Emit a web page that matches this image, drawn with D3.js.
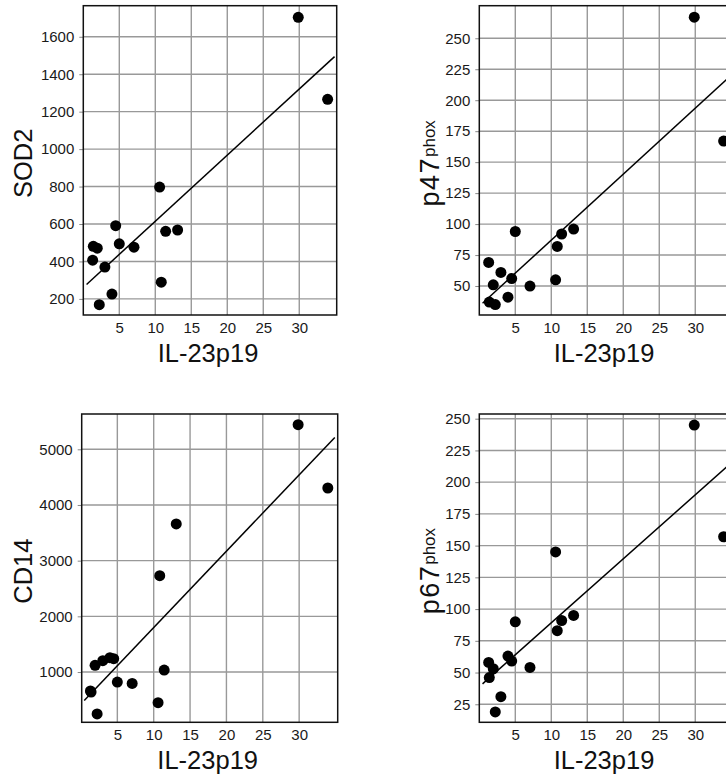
<!DOCTYPE html>
<html>
<head>
<meta charset="utf-8">
<script src="https://cdn.jsdelivr.net/npm/d3@7"></script>
<style>
body { margin: 0; background: #fff; }
text { font-family: Arial, "Liberation Sans", sans-serif; }
</style>
</head>
<body>
<script>
// IL-23p19 values shared by the four panels
var il23 = [1.3, 1.39, 1.94, 2.22, 3.0, 3.98, 4.5, 5.0, 7.04, 10.6, 10.83, 11.44, 13.1, 29.86, 33.94];

var sod2 = [407, 481, 471, 169, 370, 226, 591, 494, 476, 797, 289, 561, 568, 1704, 1266];
var p47  = [69, 37, 51, 35, 61, 41, 56, 94, 50, 55, 82, 92, 96, 267, 167];
var cd14 = [660, 640, 1120, 248, 1203, 1257, 1239, 820, 796, 449, 2730, 1036, 3659, 5442, 4305];
var p67  = [58, 46, 53, 19, 31, 63, 59, 90, 54, 145, 83, 91, 95, 245, 157];

var xTicks    = [5, 10, 15, 20, 25, 30];
var sod2Ticks = [200, 400, 600, 800, 1000, 1200, 1400, 1600];
var p47Ticks  = [50, 75, 100, 125, 150, 175, 200, 225, 250];
var cd14Ticks = [1000, 2000, 3000, 4000, 5000];
var p67Ticks  = [25, 50, 75, 100, 125, 150, 175, 200, 225, 250];

// range over which the fitted line is drawn
var fitRange = [0.45, 34.9];

var width = 726,
    height = 779;

var svg = d3.select("body").append("svg")
    .attr("width", width)
    .attr("height", height);

var panels = [
    {name: "SOD2", sup: "", y: sod2, ticks: sod2Ticks, xdom: [0, 35.2], ydom: [114, 1766],
     left: 83.3, top: 5.7, w: 253.4, h: 309.3, labX: 23},
    {name: "p47", sup: "phox", y: p47, ticks: p47Ticks, xdom: [0, 35.2], ydom: [26.6, 276.3],
     left: 479.3, top: 5.7, w: 253.4, h: 309.3, labX: 430},
    {name: "CD14", sup: "", y: cd14, ticks: cd14Ticks, xdom: [0.1, 35.3], ydom: [97, 5634],
     left: 81.7, top: 414, w: 256, h: 308.3, labX: 23},
    {name: "p67", sup: "phox", y: p67, ticks: p67Ticks, xdom: [0, 35.2], ydom: [10.8, 253.7],
     left: 479.3, top: 414, w: 253.4, h: 308.3, labX: 430}
];

panels.forEach(function(p) {
    var x = d3.scaleLinear().domain(p.xdom).range([0, p.w]);
    var y = d3.scaleLinear().domain(p.ydom).range([p.h, 0]);

    var g = svg.append("g").attr("transform", "translate(" + p.left + "," + p.top + ")");

    //grid
    g.append("g").selectAll("line").data(xTicks).enter().append("line")
        .attr("x1", function(d) { return x(d); }).attr("x2", function(d) { return x(d); })
        .attr("y1", 0).attr("y2", p.h)
        .attr("stroke", "#999").attr("stroke-width", 1.4);
    g.append("g").selectAll("line").data(p.ticks).enter().append("line")
        .attr("y1", function(d) { return y(d); }).attr("y2", function(d) { return y(d); })
        .attr("x1", 0).attr("x2", p.w)
        .attr("stroke", "#999").attr("stroke-width", 1.4);

    //axes
    var ya = g.append("g")
        .call(d3.axisLeft(y).tickValues(p.ticks).tickFormat(d3.format("d")).tickSize(4).tickPadding(5));
    var xa = g.append("g").attr("transform", "translate(0," + p.h + ")")
        .call(d3.axisBottom(x).tickValues(xTicks).tickFormat(d3.format("d")).tickSize(0).tickPadding(7.5));
    [ya, xa].forEach(function(a) {
        a.select(".domain").remove();
        a.selectAll("line").attr("stroke", "#888");
        a.selectAll("text").attr("font-size", 15).attr("fill", "#1a1a1a")
            .style("font-family", "Arial, 'Liberation Sans', sans-serif");
    });

    //frame
    g.append("rect").attr("width", p.w).attr("height", p.h)
        .attr("fill", "none").attr("stroke", "#111").attr("stroke-width", 1.5);

    //least squares fit
    var mx = d3.mean(il23), my = d3.mean(p.y);
    var sxy = d3.sum(il23, function(v, i) { return (v - mx) * (p.y[i] - my); });
    var sxx = d3.sum(il23, function(v) { return (v - mx) * (v - mx); });
    var b = sxy / sxx, a0 = my - b * mx;
    g.append("path")
        .datum(fitRange)
        .attr("d", d3.line().x(function(d) { return x(d); }).y(function(d) { return y(a0 + b * d); }))
        .attr("stroke", "#000").attr("stroke-width", 1.5).attr("fill", "none");

    //points
    g.append("g").selectAll("circle").data(il23).enter().append("circle")
        .attr("cx", function(d) { return x(d); })
        .attr("cy", function(d, i) { return y(p.y[i]); })
        .attr("r", 5.5)
        .attr("fill", "#000");

    //x title
    g.append("text")
        .attr("x", p.w / 2 - 2).attr("y", p.h + 47)
        .attr("text-anchor", "middle")
        .attr("font-size", 25.5).attr("fill", "#111")
        .text("IL-23p19");

    //y title
    var t = svg.append("text")
        .attr("transform", "translate(" + p.labX + "," + (p.top + p.h / 2 + 3) + ") rotate(-90)")
        .attr("text-anchor", "middle")
        .attr("dy", "0.35em")
        .attr("font-size", 25.5).attr("fill", "#111");
    if (p.sup) {
        t.append("tspan").attr("font-size", 27).attr("letter-spacing", 1.5).text(p.name);
        t.append("tspan").attr("font-size", 17).attr("dy", -4).text(p.sup);
    } else {
        t.append("tspan").text(p.name);
    }
});
</script>
</body>
</html>
